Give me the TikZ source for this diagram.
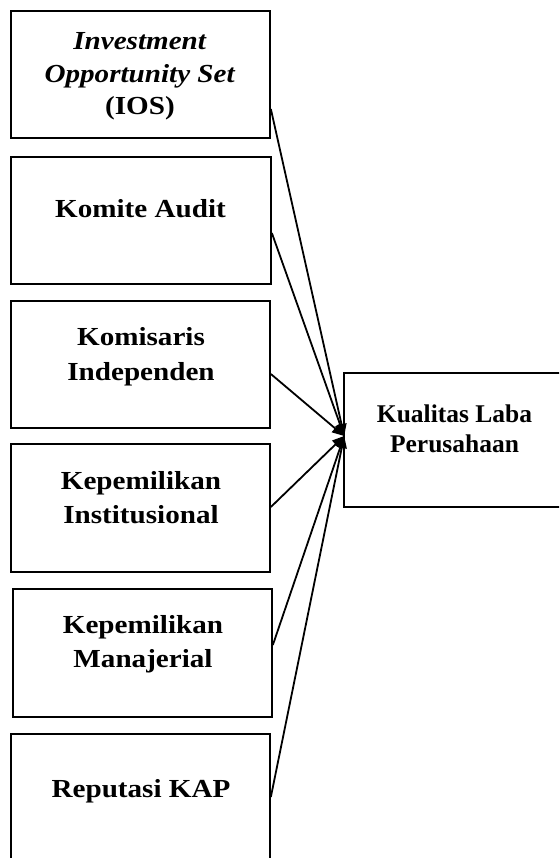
\documentclass[tikz,border=0pt]{standalone}
\usepackage{fontspec}
\setmainfont{Liberation Serif}
\newfontfamily\leftfont{Liberation Serif}[FakeStretch=1.12]
\usetikzlibrary{arrows.meta,calc}
\newcommand\stackedtext[4]{{#1\fontsize{#2}{#3}\selectfont\bfseries\begin{tabular}[t]{@{}c@{}}#4\end{tabular}}}
\begin{document}
\begin{tikzpicture}[x={(1pt,0pt)},y={(0pt,-1pt)},
  box/.style={draw,rectangle,line width=1.7pt,inner sep=0pt},
  lbl/.style={anchor=base,inner sep=0pt},
  conn/.style={line width=1.8pt,-{Triangle[length=12pt,width=10pt]}}]
\useasboundingbox (0,0) rectangle (559,858);
\clip (0,0) rectangle (559,858);
% boxes
\node[box,minimum width=259pt,minimum height=127pt] (b1) at (140.5,74.5) {};
\node[box,minimum width=260pt,minimum height=127pt] (b2) at (141,220.5) {};
\node[box,minimum width=259pt,minimum height=127pt] (b3) at (140.5,364.5) {};
\node[box,minimum width=259pt,minimum height=128pt] (b4) at (140.5,508) {};
\node[box,minimum width=259pt,minimum height=128pt] (b5) at (142.5,653) {};
\node[box,minimum width=259pt,minimum height=166pt] (b6) at (140.5,817) {};
\node[box,minimum width=226pt,minimum height=134pt] (out) at (457,440) {};
% texts
\node[lbl] (t1) at (140,50) {\stackedtext{\leftfont}{26}{32.5}{\textit{Investment}\\ \textit{Opportunity Set}\\ (IOS)}};
\node[lbl] (t2) at (140.5,218) {\stackedtext{\leftfont}{26}{32}{Komite Audit}};
\node[lbl] (t3) at (141,345) {\stackedtext{\leftfont}{26}{35}{Komisaris\\ Independen}};
\node[lbl] (t4) at (141,489) {\stackedtext{\leftfont}{26}{34}{Kepemilikan\\ Institusional}};
\node[lbl] (t5) at (143,633) {\stackedtext{\leftfont}{26}{34}{Kepemilikan\\ Manajerial}};
\node[lbl] (t6) at (141,797) {\stackedtext{\leftfont}{26}{32}{Reputasi KAP}};
\node[lbl] (t7) at (454.5,422) {\stackedtext{}{25.5}{30}{Kualitas Laba\\ Perusahaan}};
% connectors
\coordinate (tip) at ([yshift=4pt,xshift=1pt]out.west);
\draw[conn] ([yshift=-34.5pt]b1.east) -- (tip);
\draw[conn] ([yshift=-12.5pt]b2.east) -- (tip);
\draw[conn] ([yshift=-9.5pt]b3.east) -- (tip);
\draw[conn] ([yshift=1pt]b4.east) -- (tip);
\draw[conn] ([yshift=8pt]b5.east) -- (tip);
\draw[conn] ([yshift=20pt]b6.east) -- (tip);
\end{tikzpicture}
\end{document}
